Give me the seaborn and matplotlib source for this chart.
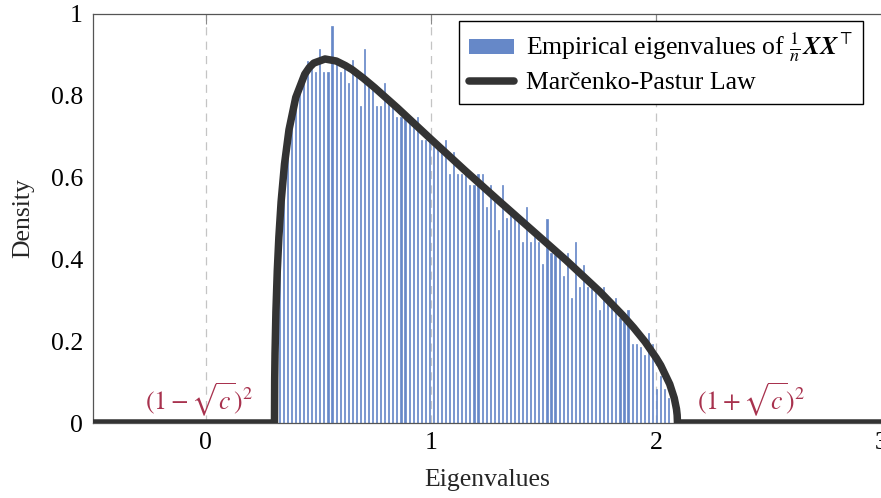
import numpy as np
import pandas as pd
import matplotlib
matplotlib.use("Agg")
import matplotlib.pyplot as plt
from matplotlib.patches import Patch
from matplotlib.lines import Line2D
import seaborn as sns

# ---------------- data ----------------
# histogram of empirical eigenvalues: first / last bin centre and bar heights
bin_first_center = 0.327
bin_last_center = 2.055
density = [
    0.47, 0.61, 0.70, 0.76, 0.80, 0.83, 0.85, 0.886, 0.87,
    0.859, 0.914, 0.859, 0.859, 0.971, 0.879, 0.859, 0.867, 0.832, 0.888,
    0.853, 0.775, 0.914, 0.824, 0.814, 0.775, 0.775, 0.832, 0.790,
    0.782, 0.749, 0.749, 0.745, 0.737, 0.729, 0.747, 0.692, 0.692, 0.688,
    0.677, 0.672, 0.663, 0.692, 0.609, 0.663, 0.609,
    0.609, 0.609, 0.582, 0.582, 0.609, 0.609, 0.527, 0.582, 0.545, 0.472,
    0.582, 0.500, 0.509, 0.515, 0.500, 0.443, 0.527, 0.443, 0.455, 0.443,
    0.388, 0.499, 0.416, 0.411, 0.401, 0.359, 0.415, 0.305, 0.443, 0.332,
    0.387, 0.332, 0.327, 0.320, 0.276,
    0.333, 0.293, 0.287, 0.305, 0.256, 0.248, 0.276, 0.193, 0.193, 0.187,
    0.166, 0.221, 0.193, 0.082, 0.115, 0.082, 0.060,
]

# Marcenko-Pastur density curve
mp_x = [-0.5, 0.3056, 0.3065, 0.308, 0.312, 0.318, 0.325, 0.335, 0.35, 0.37,
        0.40, 0.44, 0.46, 0.48, 0.53, 0.58, 0.62, 0.65, 0.70, 0.75, 0.85,
        1.0, 1.15, 1.3, 1.45, 1.6, 1.75, 1.85, 1.9, 1.95, 2.0, 2.02, 2.06,
        2.08, 2.09, 2.093, 2.0944, 3.0]
mp_y = [0.0, 0.0, 0.106, 0.170, 0.273, 0.372, 0.454, 0.541, 0.633, 0.717,
        0.796, 0.853, 0.869, 0.880, 0.890, 0.885, 0.874, 0.864, 0.843, 0.820,
        0.771, 0.694, 0.618, 0.544, 0.471, 0.398, 0.321, 0.264, 0.233, 0.199,
        0.159, 0.141, 0.095, 0.061, 0.034, 0.019, 0.0, 0.0]

x_ticks = [0, 1, 2, 3]
x_tick_labels = ["0", "1", "2", "3"]
y_ticks = [0, 0.2, 0.4, 0.6, 0.8, 1]
y_tick_labels = ["0", "0.2", "0.4", "0.6", "0.8", "1"]

legend_labels = [r"Empirical eigenvalues of $\frac{1}{n}\mathbfit{X}\mathbfit{X}^{\top}$",
                 "Marčenko-Pastur Law"]
edge_labels = [r"$(1-\sqrt{c})^2$", r"$(1+\sqrt{c})^2$"]

# ---------------- style ----------------
bar_color = "#6688c8"
curve_color = "#333333"
edge_color = "#a8324e"
FS = 18.5

sns.set_theme(style="white")
plt.rcParams["font.family"] = ["Liberation Serif", "DejaVu Serif"]
plt.rcParams["mathtext.fontset"] = "stix"
plt.rcParams["text.color"] = "black"

fig = plt.figure(figsize=(8.81, 4.98), dpi=100)
ax = fig.add_axes([93 / 881, 75 / 498, 788.5 / 881, 409 / 498])

# histogram bars
centers = np.linspace(bin_first_center, bin_last_center, len(density))
step = centers[1] - centers[0]
lo, hi = centers[0] - step / 2, centers[-1] + step / 2
df = pd.DataFrame({"eig": centers, "dens": density})
sns.histplot(data=df, x="eig", weights="dens", bins=len(density), binrange=(lo, hi),
             shrink=0.28, color=bar_color, alpha=1, edgecolor=bar_color,
             linewidth=0.5, ax=ax, zorder=2)

# MP law curve
cdf = pd.DataFrame({"x": mp_x, "y": mp_y})
sns.lineplot(data=cdf, x="x", y="y", color=curve_color, linewidth=5.4,
             estimator=None, sort=False, ax=ax, zorder=3, legend=False)
for ln in ax.lines:
    ln.set_solid_joinstyle("round")

ax.set_xlim(-0.5, 3)
ax.set_ylim(0, 1)
ax.set_xticks(x_ticks)
ax.set_xticklabels(x_tick_labels, fontsize=FS)
ax.set_yticks(y_ticks)
ax.set_yticklabels(y_tick_labels, fontsize=FS)

ax.xaxis.grid(True, linestyle=(0, (6.5, 5)), color="#c4c4c4", linewidth=0.9)
ax.yaxis.grid(False)
ax.set_axisbelow(True)

for s in ax.spines.values():
    s.set_color("#555555")
    s.set_linewidth(0.9)

ax.tick_params(axis="both", direction="in", length=7, width=0.8, color="#8a8a8a",
               top=True, right=False, labelcolor="black")
ax.tick_params(axis="x", pad=6.5)
ax.tick_params(axis="y", pad=7.3)

ax.set_xlabel("Eigenvalues", fontsize=FS)
ax.set_ylabel("Density", fontsize=FS)
ax.xaxis.set_label_coords(0.5, -0.113)
ax.yaxis.set_label_coords(-0.074, 0.5)

# edge labels
ax.text(0.21, 0.03, edge_labels[0], ha="right", va="baseline", color=edge_color, fontsize=FS)
ax.text(2.18, 0.03, edge_labels[1], ha="left", va="baseline", color=edge_color, fontsize=FS)

# legend
handles = [Patch(facecolor=bar_color, edgecolor="none"),
           Line2D([0], [0], color=curve_color, linewidth=5.4)]
leg = ax.legend(handles, legend_labels, loc="upper right",
                bbox_to_anchor=(0.9765, 0.983), borderaxespad=0, fontsize=FS,
                frameon=True, fancybox=False, framealpha=1, edgecolor="black",
                handlelength=1.75, handleheight=0.5, handletextpad=0.45,
                borderpad=0.4, labelspacing=0.3)
leg.get_frame().set_linewidth(1.0)
leg.set_zorder(5)

fig.savefig("out.png", dpi=100)
